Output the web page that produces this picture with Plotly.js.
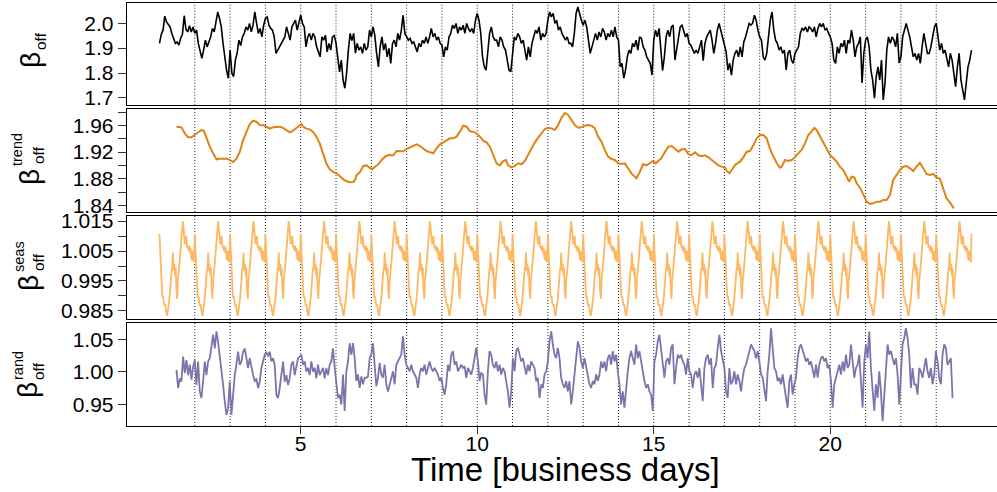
<!DOCTYPE html>
<html>
<head>
<meta charset="utf-8">
<script src="https://cdn.plot.ly/plotly-3.0.1.min.js"></script>
<style>
  html, body { margin: 0; padding: 0; overflow: hidden; background: #fff; }
  #chart { width: 1004px; height: 492px; }
</style>
</head>
<body>
<div id="chart"></div>
<script>
// ---- observed beta_off, 20 samples per business day from day 1.0 to 24.0 ----
const obsStart = 1.0;
const obsStep = 0.05;
const observed = [
  1.919,1.955,1.972,2.028,2.005,1.992,1.985,1.959,1.939,1.919,1.925,1.912,1.94,1.955,2.03,1.975,1.965,1.99,1.965,1.985,
  1.959,1.972,1.919,1.892,1.859,1.892,1.932,1.905,1.925,1.945,1.979,1.965,2.005,2.045,2.019,1.985,1.919,1.852,1.812,1.779,
  1.892,1.80,1.785,1.852,1.88,1.932,1.91,1.945,1.959,1.985,1.972,1.999,1.965,1.992,2.045,2.0,1.959,1.979,1.945,1.992,
  2.019,2.025,1.992,1.979,1.972,1.945,1.879,1.892,1.905,1.92,1.932,1.945,1.985,1.959,1.932,1.985,1.999,2.012,1.972,1.999,
  2.032,1.999,1.985,1.905,1.945,1.959,1.932,1.959,1.945,1.905,1.885,1.865,1.945,1.932,1.952,1.885,1.919,1.892,1.945,1.95,
  1.92,1.85,1.805,1.852,1.772,1.739,1.799,1.892,1.959,1.93,1.959,1.88,1.919,1.892,1.905,1.879,1.919,1.892,1.905,1.972,
  1.945,1.985,1.95,1.879,1.825,1.905,1.945,1.892,1.919,1.865,1.899,1.839,1.919,1.932,1.905,1.959,1.932,1.972,2.032,1.959,
  1.945,1.932,1.939,1.919,1.925,1.905,1.885,1.919,1.905,1.932,1.919,1.945,1.919,1.945,1.979,1.945,1.959,1.932,1.945,1.919,
  1.912,1.865,1.905,1.892,1.945,1.959,1.992,1.979,1.999,1.959,1.985,1.972,1.992,1.959,1.999,1.979,1.965,1.979,1.959,2.012,
  2.039,2.012,1.959,1.865,1.825,1.812,1.905,1.959,1.985,1.945,1.932,1.932,1.905,1.945,1.932,1.905,1.892,1.852,1.812,1.805,
  1.892,1.945,1.932,1.959,1.945,1.919,1.932,1.892,1.852,1.905,1.865,1.919,1.945,1.972,1.959,1.985,1.932,1.959,1.945,1.959,
  2.012,2.045,2.025,2.039,1.999,2.012,1.972,1.985,1.959,1.945,1.932,1.945,1.919,1.919,1.905,1.959,2.039,2.065,2.032,2.012,
  1.992,2.012,1.985,1.919,1.879,1.905,1.932,1.959,1.932,1.965,1.945,1.979,1.965,1.932,1.959,1.945,1.972,1.945,1.985,1.945,
  1.932,1.825,1.839,1.779,1.812,1.865,1.892,1.879,1.919,1.905,1.932,1.892,1.945,1.939,1.905,1.892,1.865,1.852,1.839,1.792,
  1.932,1.972,1.945,1.979,1.905,1.81,1.865,1.945,1.972,1.945,1.985,1.992,1.852,1.892,1.945,1.985,1.992,1.972,1.945,1.959,
  1.919,1.912,1.892,1.879,1.892,1.879,1.905,1.932,1.85,1.919,1.945,1.959,1.972,1.932,1.879,1.919,1.972,1.999,1.972,1.939,
  1.919,1.885,1.812,1.839,1.792,1.852,1.879,1.892,1.865,1.905,1.865,1.925,1.945,1.972,1.999,1.992,2.0,2.032,2.012,1.972,
  1.945,1.932,1.865,1.852,1.879,1.945,2.012,2.045,1.972,1.932,1.919,1.892,1.905,1.879,1.892,1.812,1.879,1.892,1.852,1.839,
  1.879,1.892,1.905,1.959,1.979,1.972,1.985,1.965,1.985,1.979,1.965,1.985,1.945,1.979,1.999,1.985,1.999,1.972,1.979,1.959,
  1.945,1.919,1.852,1.839,1.905,1.879,1.919,1.905,1.932,1.879,1.932,1.919,1.972,1.932,1.865,1.905,1.919,1.945,1.76,1.88,
  1.932,1.945,1.905,1.812,1.772,1.699,1.785,1.825,1.772,1.852,1.692,1.759,1.892,1.945,1.919,1.945,1.932,1.905,1.959,1.84,
  1.865,1.945,1.972,1.999,1.972,1.945,1.905,1.865,1.879,1.852,1.879,1.839,1.905,1.959,1.919,1.879,1.879,1.905,1.945,1.985,
  1.999,1.945,1.892,1.919,1.879,1.892,1.852,1.825,1.879,1.852,1.799,1.745,1.825,1.879,1.772,1.732,1.692,1.759,1.825,1.852,
  1.892
];

// ---- trend component: [business day, value] ----
const trendPoints = [
  [1.481,1.958],[1.623,1.957],[1.717,1.948],[1.811,1.942],[1.906,1.942],[2.0,1.9455],[2.094,1.950],[2.189,1.953],
  [2.255,1.952],[2.330,1.9405],[2.425,1.928],[2.519,1.918],[2.613,1.909],[2.708,1.910],[2.802,1.910],[2.896,1.910],
  [2.991,1.908],[3.085,1.905],[3.179,1.910],[3.274,1.920],[3.368,1.938],[3.462,1.950],[3.557,1.962],[3.651,1.967],
  [3.745,1.9655],[3.840,1.9605],[3.934,1.960],[4.028,1.958],[4.123,1.955],[4.217,1.957],[4.311,1.958],[4.406,1.958],
  [4.5,1.956],[4.594,1.953],[4.689,1.9495],[4.783,1.952],[4.877,1.956],[4.972,1.9605],[5.019,1.962],[5.066,1.958],
  [5.160,1.955],[5.255,1.954],[5.349,1.950],[5.443,1.943],[5.538,1.933],[5.632,1.918],[5.726,1.903],[5.821,1.894],
  [5.925,1.890],[6.019,1.888],[6.113,1.883],[6.208,1.879],[6.302,1.876],[6.396,1.8745],[6.491,1.875],[6.538,1.878],
  [6.585,1.8855],[6.679,1.890],[6.774,1.899],[6.868,1.900],[6.962,1.896],[7.038,1.8945],[7.104,1.898],[7.198,1.9015],
  [7.292,1.908],[7.387,1.913],[7.481,1.9155],[7.623,1.915],[7.717,1.9215],[7.811,1.921],[7.906,1.921],[8.0,1.9245],
  [8.094,1.927],[8.189,1.929],[8.283,1.9315],[8.377,1.929],[8.472,1.9245],[8.566,1.9215],[8.660,1.9195],[8.755,1.918],
  [8.849,1.9255],[8.943,1.9315],[9.038,1.9345],[9.132,1.938],[9.226,1.9405],[9.321,1.9405],[9.415,1.943],[9.509,1.9505],
  [9.604,1.9595],[9.698,1.958],[9.792,1.951],[9.887,1.9505],[9.981,1.948],[10.075,1.943],[10.170,1.937],[10.264,1.9345],
  [10.358,1.928],[10.453,1.9155],[10.547,1.903],[10.642,1.900],[10.736,1.9065],[10.811,1.908],[10.877,1.900],[10.972,1.897],
  [11.066,1.899],[11.160,1.903],[11.255,1.9015],[11.349,1.9065],[11.443,1.9155],[11.538,1.9265],[11.632,1.9345],[11.726,1.9415],
  [11.821,1.948],[11.915,1.9545],[12.009,1.9565],[12.104,1.9555],[12.198,1.953],[12.292,1.9605],[12.387,1.9715],[12.481,1.9785],
  [12.575,1.9755],[12.670,1.968],[12.764,1.9605],[12.858,1.9565],[12.953,1.957],[13.047,1.9595],[13.142,1.9605],[13.236,1.9595],
  [13.330,1.9555],[13.425,1.943],[13.519,1.9355],[13.613,1.923],[13.708,1.913],[13.802,1.9095],[13.896,1.908],[13.991,1.903],
  [14.085,1.902],[14.179,1.903],[14.274,1.8955],[14.368,1.888],[14.462,1.883],[14.509,1.8805],[14.604,1.890],[14.698,1.902],
  [14.792,1.900],[14.887,1.903],[14.981,1.9065],[15.057,1.903],[15.123,1.9065],[15.217,1.911],[15.321,1.9205],[15.415,1.928],
  [15.509,1.929],[15.604,1.9245],[15.698,1.9205],[15.792,1.924],[15.887,1.9245],[15.981,1.9165],[16.075,1.9155],[16.170,1.9195],
  [16.264,1.915],[16.358,1.9135],[16.453,1.915],[16.547,1.912],[16.642,1.908],[16.736,1.9045],[16.830,1.900],[16.925,1.898],
  [17.019,1.8965],[17.066,1.8915],[17.142,1.888],[17.208,1.893],[17.302,1.9005],[17.443,1.9055],[17.538,1.912],[17.632,1.9205],
  [17.726,1.9215],[17.821,1.930],[17.915,1.9405],[18.009,1.9455],[18.104,1.9455],[18.198,1.9405],[18.292,1.9245],[18.387,1.9135],
  [18.481,1.9035],[18.575,1.8965],[18.623,1.898],[18.717,1.908],[18.811,1.9065],[18.906,1.908],[19.0,1.912],[19.094,1.918],
  [19.189,1.923],[19.283,1.933],[19.377,1.9455],[19.472,1.951],[19.547,1.956],[19.613,1.953],[19.708,1.943],[19.802,1.933],
  [19.896,1.9245],[19.991,1.9155],[20.085,1.911],[20.179,1.9055],[20.274,1.898],[20.368,1.893],[20.462,1.883],[20.528,1.8755],
  [20.604,1.883],[20.679,1.882],[20.745,1.8735],[20.840,1.8665],[20.934,1.8565],[21.028,1.8455],[21.123,1.842],[21.217,1.843],
  [21.311,1.8455],[21.406,1.8455],[21.5,1.848],[21.594,1.848],[21.689,1.8555],[21.783,1.878],[21.877,1.8855],[21.972,1.893],
  [22.066,1.898],[22.160,1.899],[22.255,1.8955],[22.349,1.8915],[22.443,1.898],[22.538,1.904],[22.632,1.8955],[22.726,1.887],
  [22.821,1.8855],[22.915,1.887],[23.009,1.882],[23.104,1.880],[23.198,1.865],[23.292,1.8505],[23.387,1.8445],[23.5,1.8355]
];

// ---- seasonal component: one business day's profile, sampled every 0.02 day ----
const seasFirstDay = 1;
const seasLastDay = 24;
const seasProfileStep = 0.02;
const seasProfile = [
  1.0107,1.004,1.0007,0.995,0.9895,0.990,0.9879,0.9868,0.9873,0.985,
  0.984,0.9834,0.985,0.9873,0.989,0.9918,0.9962,0.9984,0.9995,1.0045,
  0.9984,1.0007,0.9968,0.9995,0.9918,0.989,0.995,0.9995,1.000,1.0029,
  1.0062,1.0096,1.0129,1.015,1.0129,1.0107,1.0073,1.0084,1.0101,1.0062,
  1.0068,1.0051,1.0068,1.0045,1.0062,1.0029,1.0018,1.0051,1.0034,1.0012
];

// ---- random component, evenly spaced samples ----
const randStart = 1.4811;
const randStep = 0.04717;
const randomPart = [
  1.003,0.975,0.990,0.985,1.0235,0.998,1.018,0.995,1.011,0.988,
  1.008,1.018,0.980,1.016,0.970,0.960,0.985,1.016,0.995,1.016,
  1.021,1.036,1.057,1.036,1.062,1.046,1.026,1.006,0.980,0.955,
  0.934,0.944,0.985,0.934,0.970,0.995,1.011,1.031,1.011,1.016,
  1.031,1.036,1.021,1.006,1.021,1.006,0.995,0.985,0.990,0.975,
  0.985,1.006,1.016,1.026,1.031,1.0235,1.031,1.016,1.021,1.011,
  0.965,0.960,0.975,0.995,1.016,0.985,0.995,0.980,0.990,1.011,
  1.016,0.995,1.006,1.021,1.0235,1.026,1.011,1.016,1.0005,1.006,
  0.995,1.016,1.0005,1.006,0.990,1.011,0.995,1.0005,1.006,0.990,
  1.006,0.995,1.011,1.016,1.036,1.006,0.985,0.960,
  0.965,0.950,0.996,0.940,1.001,1.016,1.044,1.0265,1.044,1.021,
  0.986,0.996,0.9755,0.993,0.981,0.991,0.991,0.993,1.021,1.0265,
  1.044,1.016,0.978,0.991,1.014,0.996,0.991,1.011,0.981,0.970,
  0.981,0.991,1.001,0.981,1.011,1.016,1.021,1.0265,1.0546,1.0265,
  1.011,1.006,1.001,1.011,1.001,0.996,0.991,0.9755,0.996,1.006,
  1.001,1.011,0.996,1.006,1.016,1.006,1.001,1.006,1.001,0.996,
  0.986,0.991,0.9755,0.965,0.981,1.011,1.001,1.0265,1.032,1.011,
  1.016,1.001,1.006,1.011,1.006,1.009,0.991,1.006,1.001,0.996,
  1.006,1.021,1.037,1.016,0.986,0.998,0.996,0.965,0.950,1.001,
  1.032,1.0265,1.011,1.006,1.016,1.001,1.011,0.996,1.006,1.001,
  0.986,0.970,0.945,0.970,1.021,1.001,1.032,1.037,1.0265,1.016,
  1.021,1.006,0.996,1.011,1.001,1.016,1.011,1.006,0.986,0.991,
  0.960,0.981,0.9755,0.996,1.001,1.016,1.047,1.062,1.042,1.0265,
  1.021,1.037,1.021,0.991,0.981,0.9755,0.986,0.970,0.986,0.950,
  0.970,0.991,1.021,1.047,1.037,1.016,1.006,1.021,1.006,0.996,
  0.981,0.9755,0.986,0.981,0.996,0.986,0.996,1.016,1.006,1.016,
  1.001,1.021,1.0265,1.011,1.032,1.016,1.0265,1.001,0.981,0.950,
  0.970,0.945,0.981,1.001,1.021,1.032,1.021,1.011,1.042,1.021,
  1.032,1.016,1.001,0.986,0.9755,0.981,0.970,0.965,0.940,1.016,
  1.0265,1.047,1.057,1.032,1.016,
  0.991,1.016,1.021,1.011,1.037,1.042,0.981,1.006,1.0265,1.021,
  1.0265,1.016,1.011,0.996,1.021,1.001,0.996,0.9755,0.996,1.001,
  0.991,1.006,0.9755,0.955,1.006,1.021,1.0265,1.011,1.021,0.9755,
  1.006,1.011,1.037,1.057,1.032,1.016,1.006,0.970,0.960,1.006,
  0.981,0.986,1.001,0.981,0.996,0.986,0.970,0.991,1.006,1.011,
  1.021,1.032,1.042,1.037,1.032,1.021,1.032,1.016,0.996,0.991,
  0.970,0.955,1.001,1.0265,1.067,1.032,1.006,1.001,0.986,0.991,
  0.981,0.996,0.9755,0.960,0.945,0.986,0.996,0.965,0.981,0.991,
  1.021,1.037,1.042,1.032,1.0265,1.016,1.021,1.011,1.016,1.001,
  0.991,1.011,0.991,1.011,1.021,1.024,1.016,1.021,1.006,1.011,
  0.986,0.945,0.981,0.991,1.001,1.011,0.996,1.016,1.001,1.0265,
  1.006,1.011,1.042,1.011,0.991,1.006,1.011,1.0265,0.981,0.945,
  1.016,1.042,1.021,1.062,1.006,0.9755,0.940,0.981,0.960,1.001,
  0.970,0.9245,0.965,1.011,1.042,1.0265,1.032,1.021,1.011,1.021,
  0.996,0.950,1.006,1.042,1.052,1.067,1.052,1.0265,0.9755,1.006,
  0.981,0.981,0.965,1.006,1.001,0.991,1.006,1.021,1.001,0.991,
  1.006,0.981,0.996,1.032,1.016,0.991,0.981,1.0265,1.042,1.037,
  1.011,1.016,1.021,0.960
];

// ---- axes ----
const dayLines = [2,3,4,5,6,7,8,9,10,11,12,13,14,15,16,17,18,19,20,21,22,23];
const xTickVals = [5,10,15,20];
const yTicks1 = [1.7,1.8,1.9,2.0];
const yTickText1 = ['1.7','1.8','1.9','2.0'];
const yTicks2 = [1.84,1.86,1.88,1.90,1.92,1.94,1.96,1.98];
const yTickText2 = ['1.84','','1.88','','1.92','','1.96',''];
const yTicks3 = [0.985,0.990,0.995,1.000,1.005,1.010,1.015];
const yTickText3 = ['0.985','','0.995','','1.005','','1.015'];
const yTicks4 = [0.95,1.00,1.05];
const yTickText4 = ['0.95','1.00','1.05'];

// ---- build x coordinates ----
const obsX = observed.map((_, i) => obsStart + i * obsStep);

const seasX = [], seasY = [];
for (let d = seasFirstDay; d < seasLastDay; d++) {
  seasProfile.forEach((v, i) => { seasX.push(d + i * seasProfileStep); seasY.push(v); });
}
seasX.push(seasLastDay); seasY.push(seasProfile[0]);

const randX = randomPart.map((_, i) => randStart + i * randStep);

const FONT = 'Liberation Sans, Arial, Helvetica, sans-serif';

const traces = [
  { x: obsX, y: observed, type: 'scatter', mode: 'lines', xaxis: 'x', yaxis: 'y',
    line: { color: '#000000', width: 1.6 }, hoverinfo: 'skip' },
  { x: trendPoints.map(p => p[0]), y: trendPoints.map(p => p[1]), type: 'scatter', mode: 'lines',
    xaxis: 'x2', yaxis: 'y2', line: { color: '#E08214', width: 2 }, hoverinfo: 'skip' },
  { x: seasX, y: seasY, type: 'scatter', mode: 'lines', xaxis: 'x3', yaxis: 'y3',
    line: { color: '#FDB863', width: 1.8 }, hoverinfo: 'skip' },
  { x: randX, y: randomPart, type: 'scatter', mode: 'lines', xaxis: 'x4', yaxis: 'y4',
    line: { color: '#8073AC', width: 1.8 }, hoverinfo: 'skip' }
];

// plot area in pixels
const PL = 127, PW = 877, PT = 3, PH = 423;
const px = (x) => (x - PL) / PW;
const py = (y) => (PT + PH - y) / PH;

const panels = [
  { top: 3,   bottom: 104.7, range: [1.673, 2.081],   tv: yTicks1, tt: yTickText1 },
  { top: 109, bottom: 212,   range: [1.830, 1.9845],  tv: yTicks2, tt: yTickText2 },
  { top: 216, bottom: 319,   range: [0.9823, 1.0167], tv: yTicks3, tt: yTickText3 },
  { top: 323, bottom: 426,   range: [0.917, 1.075],   tv: yTicks4, tt: yTickText4 }
];

const layout = {
  width: 1004, height: 492,
  margin: { l: PL, r: 0, t: PT, b: 492 - PT - PH },
  paper_bgcolor: '#ffffff', plot_bgcolor: '#ffffff',
  showlegend: false,
  font: { family: FONT, color: '#000000' },
  shapes: [], annotations: []
};

panels.forEach((p, k) => {
  const n = k + 1;
  const sfx = n === 1 ? '' : String(n);
  const last = n === 4;
  layout['xaxis' + sfx] = {
    domain: [0, 1], range: [0.08, 24.92], anchor: 'y' + sfx,
    matches: n === 1 ? undefined : 'x',
    showline: true, mirror: true, linecolor: '#000000', linewidth: 1.3,
    showgrid: false, zeroline: false,
    ticks: last ? 'outside' : '', ticklen: 7, tickwidth: 1, tickcolor: '#333333',
    ticklabelstandoff: last ? -9 : 0,
    tickmode: 'array', tickvals: xTickVals, showticklabels: last,
    tickfont: { family: FONT, size: 21, color: '#000000' }
  };
  layout['yaxis' + sfx] = {
    domain: [py(Math.min(p.bottom, 426)), Math.min(1, py(p.top))], range: p.range, anchor: 'x' + sfx,
    showline: true, mirror: true, linecolor: '#000000', linewidth: 1.3,
    showgrid: false, zeroline: false,
    ticks: 'outside', ticklen: 8, tickwidth: 1, tickcolor: '#333333',
    tickmode: 'array', tickvals: p.tv, ticktext: p.tt,
    tickfont: { family: FONT, size: 21, color: '#000000' }
  };
  dayLines.forEach(d => {
    layout.shapes.push({
      type: 'line', xref: 'x' + sfx, yref: 'y' + sfx + ' domain',
      x0: d, x1: d, y0: 0, y1: 1, layer: 'below',
      line: { color: '#222222', width: 1, dash: '1px,2px' }
    });
  });
});

// stacked beta labels (main symbol, subscript, superscript)
function label(text, x, y, size) {
  layout.annotations.push({
    text: text, xref: 'paper', yref: 'paper', x: px(x), y: py(y),
    xanchor: 'center', yanchor: 'middle', showarrow: false, textangle: -90,
    font: { family: FONT, size: size, color: '#000000' }
  });
}
label('β', 31, 60, 28);   label('off', 40, 41, 15.5);
label('β', 29, 177, 28);  label('off', 39, 155, 15.5);  label('trend', 17, 149, 14.5);
label('β', 28, 283, 28);  label('off', 38, 262, 15.5);  label('seas', 19, 257, 14.5);
label('β', 27, 390, 28);  label('off', 38, 371, 15.5);  label('rand', 18, 366, 14.5);

// x-axis title
layout.annotations.push({
  text: 'Time [business days]', xref: 'paper', yref: 'paper', x: 0.5, y: py(469.5),
  xanchor: 'center', yanchor: 'middle', showarrow: false,
  font: { family: FONT, size: 33, color: '#000000' }
});

Plotly.newPlot('chart', traces, layout, { staticPlot: true, displayModeBar: false });
</script>
</body>
</html>
